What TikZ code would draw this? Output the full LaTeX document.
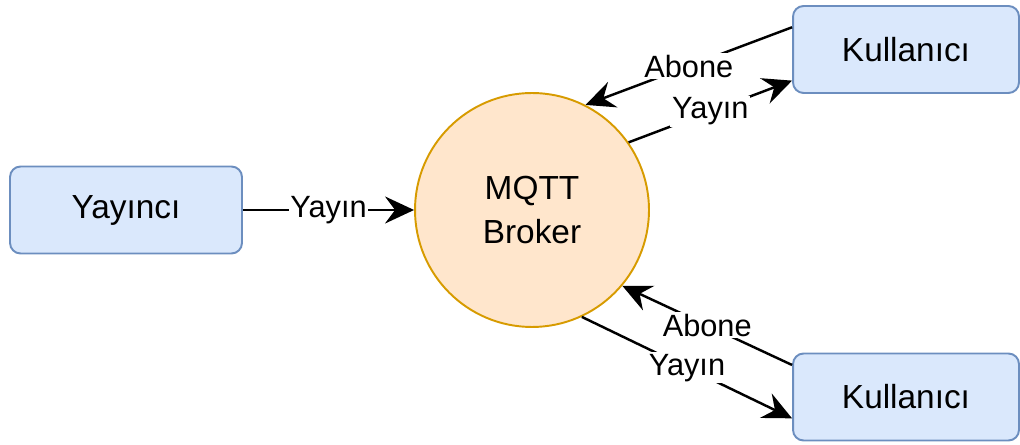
\documentclass[tikz,border=0pt]{standalone}
\usepackage{fontspec}
\setmainfont{Liberation Sans}
\usetikzlibrary{arrows.meta,positioning,calc}
\definecolor{boxfill}{HTML}{DAE8FC}
\definecolor{boxline}{HTML}{6C8EBF}
\definecolor{brokerfill}{HTML}{FFE6CC}
\definecolor{brokerline}{HTML}{D79B00}
\tikzset{
  clientbox/.style={draw=boxline, fill=boxfill, line width=1.1pt,
    rounded corners=6pt, minimum height=1.74cm,
    font=\fontsize{19}{23}\selectfont},
  brokernode/.style={circle, draw=brokerline, fill=brokerfill, line width=1.1pt,
    minimum size=4.68cm, align=center, font=\fontsize{19}{25}\selectfont},
  msgarrow/.style={-{Stealth[length=5.8mm,width=5.4mm,inset=2mm]}, line width=1.4pt},
  msglabel/.style={fill=white, inner sep=1pt, font=\fontsize{17.5}{20}\selectfont},
}

\begin{document}
\begin{tikzpicture}[x=0.02cm, y=-0.02cm]
    \useasboundingbox (0,0) rectangle (1020,445);
    % --- nodes ---
    \node[clientbox, minimum width=4.64cm] (yayinci) at (126,210) {Yayıncı};
    \node[brokernode] (broker) at (532,210) {MQTT\\Broker};
    \node[clientbox, minimum width=4.52cm] (kullanici1) at (906,49.5) {Kullanıcı};
    \node[clientbox, minimum width=4.52cm] (kullanici2) at (906,397) {Kullanıcı};
    % --- publisher to broker ---
    \draw[msgarrow] (yayinci) -- node[msglabel] {Yayın} (broker);
    % --- upper subscriber ---
    \draw[msgarrow] ($(kullanici1.north west)!0.25!(kullanici1.south west)$)
      -- node[msglabel] {Abone} (broker.63);
    \draw[msgarrow] (broker.35)
      -- node[msglabel] {Yayın} ($(kullanici1.north west)!0.85!(kullanici1.south west)$);
    % --- lower subscriber ---
    \draw[msgarrow] ($(kullanici2.north west)!0.14!(kullanici2.south west)$)
      -- node[msglabel] {Abone} (broker.-40);
    \draw[msgarrow] (broker.-65)
      -- node[msglabel] {Yayın} ($(kullanici2.north west)!0.74!(kullanici2.south west)$);
\end{tikzpicture}
\end{document}
